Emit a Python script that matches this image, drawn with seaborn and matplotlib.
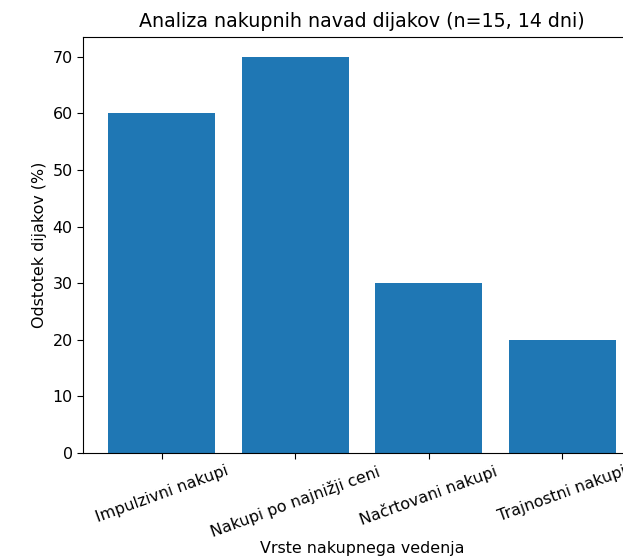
import matplotlib
matplotlib.use("Agg")
import matplotlib.pyplot as plt
import seaborn as sns

categories = ["Impulzivni nakupi", "Nakupi po najnižji ceni", "Načrtovani nakupi", "Trajnostni nakupi"]
percentages = [60, 70, 30, 20]

# reference looks like a default plot enlarged by ~1.14
plt.rcParams["font.size"] = 11.4
plt.rcParams["xtick.major.size"] = 4
plt.rcParams["ytick.major.size"] = 4

fig = plt.figure(figsize=(6.23, 5.6), dpi=100)
# axes run past the right edge, as in the cropped reference (last label is cut there too)
ax = fig.add_axes([0.1332, 0.191, 0.896, 0.743])

sns.barplot(x=categories, y=percentages, color="#1f77b4", saturation=1, width=0.8, ax=ax)
ax.set_xlim(-0.59, len(categories) - 1 + 0.59)
ax.set_ylim(0, 73.5)

ax.set_title("Analiza nakupnih navad dijakov (n=15, 14 dni)", fontsize=13.7, pad=7)
ax.set_xlabel("Vrste nakupnega vedenja", labelpad=1)
ax.set_ylabel("Odstotek dijakov (%)")
plt.setp(ax.get_xticklabels(), rotation=20, ha="center")

fig.savefig("out.png", dpi=100)
